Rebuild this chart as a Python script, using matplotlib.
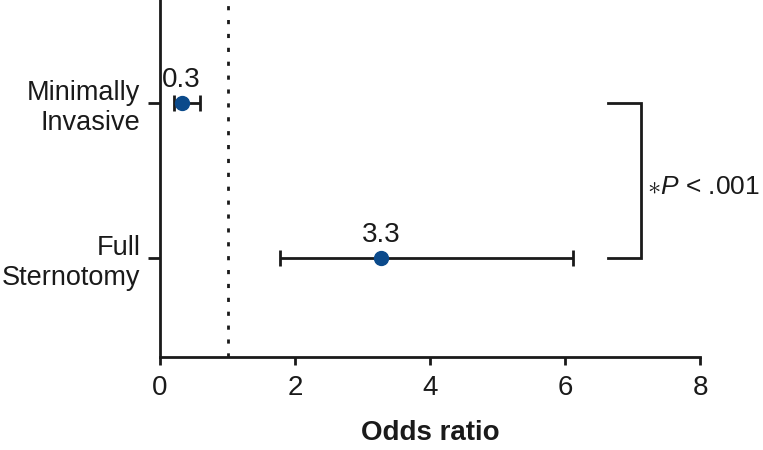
import matplotlib
matplotlib.use("Agg")
import matplotlib.pyplot as plt

plt.rcParams['font.family'] = ['Liberation Sans', 'DejaVu Sans']
plt.rcParams['mathtext.fontset'] = 'custom'
plt.rcParams['mathtext.rm'] = 'Liberation Sans'
plt.rcParams['mathtext.it'] = 'Liberation Sans:italic'

categories = ["Minimally\nInvasive", "Full\nSternotomy"]
odds = [0.32, 3.28]
ci_low = [0.2, 1.78]
ci_high = [0.59, 6.12]
labels = ["0.3", "3.3"]
ypos = [1, 0]
xticks = [0, 2, 4, 6, 8]

FS = 20
fig = plt.figure(figsize=(7.63, 4.5), dpi=100)
ax = fig.add_axes([160/763, 93/450, 540/763, 357/450])

color = "#0b4a8b"
for y, o, lo, hi, lab in zip(ypos, odds, ci_low, ci_high, labels):
    ax.errorbar([o], [y], xerr=[[o - lo], [hi - o]], fmt='none', ecolor='#1a1a1a',
                elinewidth=2, capsize=6, capthick=2, zorder=2)
    ax.plot([o], [y], 'o', color=color, markersize=10, zorder=3)
    ax.text(o, y + 0.065, lab, ha='center', va='bottom', fontsize=FS, color='#1a1a1a')

ax.axvline(1, color='#1a1a1a', linestyle=(0, (1.5, 3.5)), linewidth=2, zorder=1)

ax.set_xlim(0, 8)
ax.set_ylim(-0.64, 1.665)
ax.set_xticks(xticks)
ax.set_xticklabels([str(t) for t in xticks], fontsize=FS, color='#1a1a1a')
ax.set_yticks(ypos)
ax.set_yticklabels(categories, fontsize=19.5, color='#1a1a1a', linespacing=1.2)
ax.set_xlabel("Odds ratio", fontsize=FS, fontweight='bold', color='#1a1a1a', labelpad=14)

for s in ['top', 'right']:
    ax.spines[s].set_visible(False)
for s in ['left', 'bottom']:
    ax.spines[s].set_linewidth(2)
    ax.spines[s].set_color('#1a1a1a')
ax.tick_params(axis='both', direction='out', width=2, color='#1a1a1a')
ax.tick_params(axis='x', length=6, pad=7)
ax.tick_params(axis='y', length=9, pad=5)

# significance bracket
bx0, bx1 = 6.64, 7.13
ax.plot([bx0, bx1, bx1, bx0], [1, 1, 0, 0], color='#1a1a1a', linewidth=2,
        clip_on=False, solid_joinstyle='miter')
ax.text(bx1 + 0.08, 0.46, r"$\ast\mathit{P}$ < .001", fontsize=19, va='center',
        ha='left', color='#1a1a1a', clip_on=False)

fig.savefig("out.png", dpi=100)
